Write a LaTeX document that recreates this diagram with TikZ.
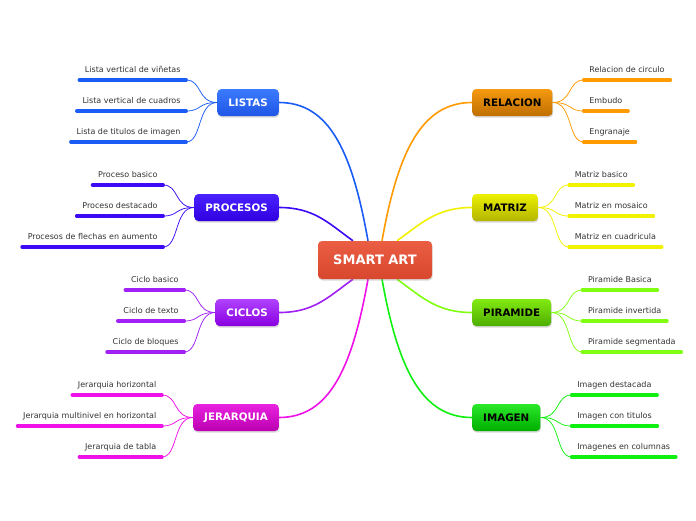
\documentclass[tikz,border=0pt]{standalone}
\usepackage{fontspec}
\setmainfont{DejaVu Sans}
\usepackage{tikz}
\usetikzlibrary{positioning, calc, shadows, backgrounds}

\definecolor{centerTop}{HTML}{EA5E44}
\definecolor{centerBot}{HTML}{D8472E}
\definecolor{listasTop}{HTML}{3B7BFF}
\definecolor{listasBot}{HTML}{1F55E6}
\definecolor{listasLine}{HTML}{1A5CF5}
\definecolor{procesosTop}{HTML}{4A22FF}
\definecolor{procesosBot}{HTML}{3000E0}
\definecolor{procesosLine}{HTML}{3C0AF5}
\definecolor{ciclosTop}{HTML}{B042FF}
\definecolor{ciclosBot}{HTML}{8A00E0}
\definecolor{ciclosLine}{HTML}{A020F5}
\definecolor{jerarquiaTop}{HTML}{E822E0}
\definecolor{jerarquiaBot}{HTML}{BB00B0}
\definecolor{jerarquiaLine}{HTML}{F010E8}
\definecolor{relacionTop}{HTML}{F59A10}
\definecolor{relacionBot}{HTML}{BF6E00}
\definecolor{relacionLine}{HTML}{FF9A00}
\definecolor{matrizTop}{HTML}{ECF000}
\definecolor{matrizBot}{HTML}{B3B600}
\definecolor{matrizLine}{HTML}{F2F200}
\definecolor{piramideTop}{HTML}{82EA12}
\definecolor{piramideBot}{HTML}{4EAE00}
\definecolor{piramideLine}{HTML}{80FF10}
\definecolor{imagenTop}{HTML}{2AE82A}
\definecolor{imagenBot}{HTML}{00AE00}
\definecolor{imagenLine}{HTML}{10F010}
\definecolor{leafText}{HTML}{333333}

\begin{document}
\begin{tikzpicture}[x=1pt, y=-1pt,
    branch/.style 2 args={rounded corners=4pt, inner xsep=11pt, inner ysep=0pt,
        minimum height=27pt, top color=#1, bottom color=#2,
        font=\fontsize{10.3}{12}\selectfont\bfseries,
        drop shadow={shadow xshift=0.6pt, shadow yshift=-1.6pt, opacity=0.3}},
    leaf/.style={inner xsep=5.5pt, inner ysep=5.5pt, text height=6pt, text depth=2pt,
        text=leafText, font=\fontsize{8}{9.6}\selectfont},
    leafbar/.style={#1, line width=3.5pt, line cap=round},
    twig/.style={#1, line width=0.75pt},
    trunk/.style={#1, line width=1.6pt}]

    \useasboundingbox (0,0) rectangle (696,520);

    % ---------------------------------------------------
    % Central topic
    % ---------------------------------------------------
    \node[branch={centerTop}{centerBot}, text=white, minimum width=114pt,
        minimum height=38pt, font=\fontsize{13}{15}\selectfont\bfseries]
        (center) at (375,260) {SMART ART};

    % ---------------------------------------------------
    % Main topics
    % ---------------------------------------------------
    \node[branch={listasTop}{listasBot}, text=white, anchor=east] (listas) at (279,102.5) {LISTAS};
    \node[branch={procesosTop}{procesosBot}, text=white, anchor=east] (procesos) at (279,207.5) {PROCESOS};
    \node[branch={ciclosTop}{ciclosBot}, text=white, anchor=east] (ciclos) at (279,312.5) {CICLOS};
    \node[branch={jerarquiaTop}{jerarquiaBot}, text=white, anchor=east] (jerarquia) at (279,417.5) {JERARQUIA};

    \node[branch={relacionTop}{relacionBot}, anchor=west] (relacion) at (472,102.5) {RELACION};
    \node[branch={matrizTop}{matrizBot}, anchor=west] (matriz) at (472,207.5) {MATRIZ};
    \node[branch={piramideTop}{piramideBot}, anchor=west] (piramide) at (472,312.5) {PIRAMIDE};
    \node[branch={imagenTop}{imagenBot}, anchor=west] (imagen) at (472,417.5) {IMAGEN};

    % ---------------------------------------------------
    % Trunks from the centre (behind the nodes)
    % ---------------------------------------------------
    \begin{scope}[on background layer]
        \draw[trunk=listasLine] ($(center.north)+(-7,0)$) .. controls +(-16,-90) and +(50,0) .. (listas.east);
        \draw[trunk=procesosLine] ($(center.north)+(-22,0)$) .. controls +(-25,-18) and +(35,0) .. (procesos.east);
        \draw[trunk=ciclosLine] ($(center.south)+(-22,0)$) .. controls +(-25,18) and +(35,0) .. (ciclos.east);
        \draw[trunk=jerarquiaLine] ($(center.south)+(-7,0)$) .. controls +(-16,90) and +(50,0) .. (jerarquia.east);

        \draw[trunk=relacionLine] ($(center.north)+(7,0)$) .. controls +(16,-90) and +(-50,0) .. (relacion.west);
        \draw[trunk=matrizLine] ($(center.north)+(22,0)$) .. controls +(25,-18) and +(-35,0) .. (matriz.west);
        \draw[trunk=piramideLine] ($(center.south)+(22,0)$) .. controls +(25,18) and +(-35,0) .. (piramide.west);
        \draw[trunk=imagenLine] ($(center.south)+(7,0)$) .. controls +(16,90) and +(-50,0) .. (imagen.west);
    \end{scope}

    % ---------------------------------------------------
    % Left leaves
    % ---------------------------------------------------
    \foreach \i/\dy/\txt in {1/-22.5/Lista vertical de viñetas, 2/8.5/Lista vertical de cuadros, 3/39.5/Lista de titulos de imagen} {
        \node[leaf, anchor=south east] (listas\i) at ($(listas.west)+(-31,\dy)$) {\txt};
        \draw[leafbar=listasLine] (listas\i.south west) -- (listas\i.south east);
        \draw[twig=listasLine] (listas.west) .. controls +(-20,0) and +(16,0) .. (listas\i.south east);
    }
    \foreach \i/\dy/\txt in {1/-22.5/Proceso basico, 2/8.5/Proceso destacado, 3/39.5/Procesos de flechas en aumento} {
        \node[leaf, anchor=south east] (procesos\i) at ($(procesos.west)+(-31,\dy)$) {\txt};
        \draw[leafbar=procesosLine] (procesos\i.south west) -- (procesos\i.south east);
        \draw[twig=procesosLine] (procesos.west) .. controls +(-20,0) and +(16,0) .. (procesos\i.south east);
    }
    \foreach \i/\dy/\txt in {1/-22.5/Ciclo basico, 2/8.5/Ciclo de texto, 3/39.5/Ciclo de bloques} {
        \node[leaf, anchor=south east] (ciclos\i) at ($(ciclos.west)+(-31,\dy)$) {\txt};
        \draw[leafbar=ciclosLine] (ciclos\i.south west) -- (ciclos\i.south east);
        \draw[twig=ciclosLine] (ciclos.west) .. controls +(-20,0) and +(16,0) .. (ciclos\i.south east);
    }
    \foreach \i/\dy/\txt in {1/-22.5/Jerarquia horizontal, 2/8.5/Jerarquia multinivel en horizontal, 3/39.5/Jerarquia de tabla} {
        \node[leaf, anchor=south east] (jerarquia\i) at ($(jerarquia.west)+(-31,\dy)$) {\txt};
        \draw[leafbar=jerarquiaLine] (jerarquia\i.south west) -- (jerarquia\i.south east);
        \draw[twig=jerarquiaLine] (jerarquia.west) .. controls +(-20,0) and +(16,0) .. (jerarquia\i.south east);
    }

    % ---------------------------------------------------
    % Right leaves
    % ---------------------------------------------------
    \foreach \i/\dy/\txt in {1/-22.5/Relacion de circulo, 2/8.5/Embudo, 3/39.5/Engranaje} {
        \node[leaf, anchor=south west] (relacion\i) at ($(relacion.east)+(31,\dy)$) {\txt};
        \draw[leafbar=relacionLine] (relacion\i.south west) -- (relacion\i.south east);
        \draw[twig=relacionLine] (relacion.east) .. controls +(20,0) and +(-16,0) .. (relacion\i.south west);
    }
    \foreach \i/\dy/\txt in {1/-22.5/Matriz basico, 2/8.5/Matriz en mosaico, 3/39.5/Matriz en cuadricula} {
        \node[leaf, anchor=south west] (matriz\i) at ($(matriz.east)+(31,\dy)$) {\txt};
        \draw[leafbar=matrizLine] (matriz\i.south west) -- (matriz\i.south east);
        \draw[twig=matrizLine] (matriz.east) .. controls +(20,0) and +(-16,0) .. (matriz\i.south west);
    }
    \foreach \i/\dy/\txt in {1/-22.5/Piramide Basica, 2/8.5/Piramide invertida, 3/39.5/Piramide segmentada} {
        \node[leaf, anchor=south west] (piramide\i) at ($(piramide.east)+(31,\dy)$) {\txt};
        \draw[leafbar=piramideLine] (piramide\i.south west) -- (piramide\i.south east);
        \draw[twig=piramideLine] (piramide.east) .. controls +(20,0) and +(-16,0) .. (piramide\i.south west);
    }
    \foreach \i/\dy/\txt in {1/-22.5/Imagen destacada, 2/8.5/Imagen con titulos, 3/39.5/Imagenes en columnas} {
        \node[leaf, anchor=south west] (imagen\i) at ($(imagen.east)+(31,\dy)$) {\txt};
        \draw[leafbar=imagenLine] (imagen\i.south west) -- (imagen\i.south east);
        \draw[twig=imagenLine] (imagen.east) .. controls +(20,0) and +(-16,0) .. (imagen\i.south west);
    }

\end{tikzpicture}
\end{document}
